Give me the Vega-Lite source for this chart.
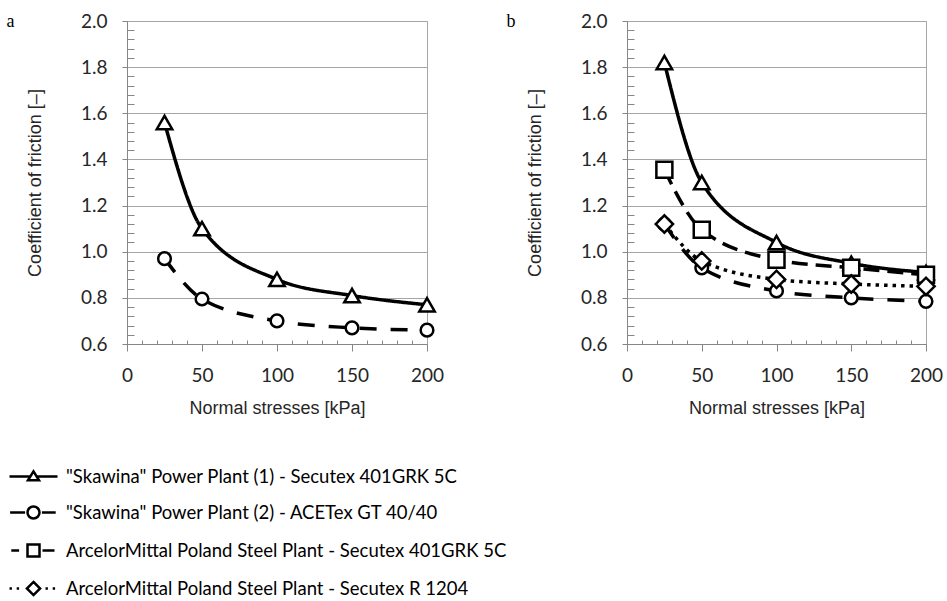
{
  "$schema": "https://vega.github.io/schema/vega-lite/v6.json",
  "padding": {"left": 5, "top": 11, "right": 5, "bottom": 5},
  "config": {
    "view": {"stroke": "#a6a6a6", "strokeWidth": 1},
    "font": "Lato",
    "axis": {
      "domainColor": "#868686",
      "tickColor": "#868686",
      "labelFont": "Lato",
      "labelFontSize": 19,
      "labelColor": "#262626",
      "titleFont": "Liberation Sans",
      "titleFontSize": 18,
      "titleFontWeight": "normal",
      "titleColor": "#262626",
      "gridColor": "#a6a6a6",
      "labelFlush": false,
      "labelOverlap": false
    }
  },
  "datasets": {
    "d": [
      {"panel": "a", "series": "\"Skawina\" Power Plant (1) - Secutex 401GRK 5C", "x": 25, "y": 1.56},
      {"panel": "a", "series": "\"Skawina\" Power Plant (1) - Secutex 401GRK 5C", "x": 50, "y": 1.10},
      {"panel": "a", "series": "\"Skawina\" Power Plant (1) - Secutex 401GRK 5C", "x": 100, "y": 0.88},
      {"panel": "a", "series": "\"Skawina\" Power Plant (1) - Secutex 401GRK 5C", "x": 150, "y": 0.81},
      {"panel": "a", "series": "\"Skawina\" Power Plant (1) - Secutex 401GRK 5C", "x": 200, "y": 0.77},
      {"panel": "a", "series": "\"Skawina\" Power Plant (2) - ACETex GT 40/40", "x": 25, "y": 0.97},
      {"panel": "a", "series": "\"Skawina\" Power Plant (2) - ACETex GT 40/40", "x": 50, "y": 0.795},
      {"panel": "a", "series": "\"Skawina\" Power Plant (2) - ACETex GT 40/40", "x": 100, "y": 0.70},
      {"panel": "a", "series": "\"Skawina\" Power Plant (2) - ACETex GT 40/40", "x": 150, "y": 0.67},
      {"panel": "a", "series": "\"Skawina\" Power Plant (2) - ACETex GT 40/40", "x": 200, "y": 0.66},
      {"panel": "b", "series": "\"Skawina\" Power Plant (1) - Secutex 401GRK 5C", "x": 25, "y": 1.82},
      {"panel": "b", "series": "\"Skawina\" Power Plant (1) - Secutex 401GRK 5C", "x": 50, "y": 1.30},
      {"panel": "b", "series": "\"Skawina\" Power Plant (1) - Secutex 401GRK 5C", "x": 100, "y": 1.04},
      {"panel": "b", "series": "\"Skawina\" Power Plant (1) - Secutex 401GRK 5C", "x": 150, "y": 0.95},
      {"panel": "b", "series": "\"Skawina\" Power Plant (1) - Secutex 401GRK 5C", "x": 200, "y": 0.91},
      {"panel": "b", "series": "\"Skawina\" Power Plant (2) - ACETex GT 40/40", "x": 25, "y": 1.12},
      {"panel": "b", "series": "\"Skawina\" Power Plant (2) - ACETex GT 40/40", "x": 50, "y": 0.93},
      {"panel": "b", "series": "\"Skawina\" Power Plant (2) - ACETex GT 40/40", "x": 100, "y": 0.83},
      {"panel": "b", "series": "\"Skawina\" Power Plant (2) - ACETex GT 40/40", "x": 150, "y": 0.80},
      {"panel": "b", "series": "\"Skawina\" Power Plant (2) - ACETex GT 40/40", "x": 200, "y": 0.785},
      {"panel": "b", "series": "ArcelorMittal Poland Steel Plant - Secutex 401GRK 5C", "x": 25, "y": 1.355},
      {"panel": "b", "series": "ArcelorMittal Poland Steel Plant - Secutex 401GRK 5C", "x": 50, "y": 1.095},
      {"panel": "b", "series": "ArcelorMittal Poland Steel Plant - Secutex 401GRK 5C", "x": 100, "y": 0.965},
      {"panel": "b", "series": "ArcelorMittal Poland Steel Plant - Secutex 401GRK 5C", "x": 150, "y": 0.93},
      {"panel": "b", "series": "ArcelorMittal Poland Steel Plant - Secutex 401GRK 5C", "x": 200, "y": 0.90},
      {"panel": "b", "series": "ArcelorMittal Poland Steel Plant - Secutex R 1204", "x": 25, "y": 1.12},
      {"panel": "b", "series": "ArcelorMittal Poland Steel Plant - Secutex R 1204", "x": 50, "y": 0.96},
      {"panel": "b", "series": "ArcelorMittal Poland Steel Plant - Secutex R 1204", "x": 100, "y": 0.88},
      {"panel": "b", "series": "ArcelorMittal Poland Steel Plant - Secutex R 1204", "x": 150, "y": 0.86},
      {"panel": "b", "series": "ArcelorMittal Poland Steel Plant - Secutex R 1204", "x": 200, "y": 0.85}
    ]
  },
  "data": {"name": "d"},
  "spacing": 60,
  "hconcat": [
    {
      "width": 300,
      "height": 323,
      "title": {"text": "a", "anchor": "start", "frame": "bounds", "font": "Liberation Serif", "fontSize": 18, "fontWeight": "normal", "color": "black", "dx": -20, "dy": 19, "offset": 0},
      "transform": [{"filter": "datum.panel === 'a'"}],
      "layer": [
        {
          "mark": {"type": "line", "interpolate": "monotone", "strokeWidth": 3.5, "color": "black"},
          "encoding": {
            "x": {"field": "x", "type": "quantitative", "scale": {"domain": [0, 200], "nice": false}, "axis": {"orient": "bottom", "values": [0, 50, 100, 150, 200], "title": "Normal stresses [kPa]", "grid": false, "tickSize": 7, "labelPadding": 15, "titlePadding": 14}},
            "y": {"field": "y", "type": "quantitative", "scale": {"domain": [0.6, 2.0], "nice": false, "zero": false}, "axis": {"orient": "left", "values": [0.6, 0.8, 1.0, 1.2, 1.4, 1.6, 1.8, 2.0], "format": ".1f", "title": "Coefficient of friction [–]", "grid": true, "tickSize": 5, "labelPadding": 15, "titlePadding": 36}},
            "strokeDash": {"field": "series", "type": "nominal", "scale": {"range": [[1, 0], [17, 14], [16, 8], [3.5, 5]]}, "legend": null}
          }
        },
        {
          "mark": {"type": "point", "filled": true, "fill": "white", "strokeWidth": 2.5, "opacity": 1},
          "encoding": {
            "x": {"field": "x", "type": "quantitative", "axis": {"orient": "bottom", "values": [10, 20, 30, 40, 60, 70, 80, 90, 110, 120, 130, 140, 160, 170, 180, 190], "tickSize": -4, "labels": false, "domain": false, "grid": false, "title": null}},
            "y": {"field": "y", "type": "quantitative", "axis": {"orient": "left", "values": [0.64, 0.68, 0.72, 0.76, 0.84, 0.88, 0.92, 0.96, 1.04, 1.08, 1.12, 1.16, 1.24, 1.28, 1.32, 1.36, 1.44, 1.48, 1.52, 1.56, 1.64, 1.68, 1.72, 1.76, 1.84, 1.88, 1.92, 1.96], "tickSize": -7, "labels": false, "domain": false, "grid": false, "title": null}},
            "shape": {"field": "series", "type": "nominal", "scale": {"range": ["triangle-up", "circle", "square", "diamond"]}, "legend": null},
            "size": {"field": "series", "type": "nominal", "scale": {"type": "ordinal", "range": [240, 160, 256, 300]}, "legend": null},
            "stroke": {"field": "series", "type": "nominal", "scale": {"domain": ["\"Skawina\" Power Plant (1) - Secutex 401GRK 5C", "\"Skawina\" Power Plant (2) - ACETex GT 40/40", "ArcelorMittal Poland Steel Plant - Secutex 401GRK 5C", "ArcelorMittal Poland Steel Plant - Secutex R 1204"], "range": ["black", "black", "black", "black"]},
              "legend": {"orient": "none", "legendX": -119, "legendY": 442, "direction": "vertical", "title": null, "symbolSize": 576, "symbolStrokeWidth": 2.5, "symbolFillColor": "white", "labelFont": "Lato", "labelFontSize": 18.5, "labelColor": "black", "labelLimit": 0, "labelOffset": 31, "rowPadding": 13, "padding": 0,
                "symbolType": {"expr": "datum.index === 0 ? 'M-1,0H0.72M1.28,0H3M1,-0.42L1.46,0.32L0.54,0.32Z' : datum.index === 1 ? 'M-0.95,0H0.3M1.7,0H2.85M1.5,0A0.5,0.5,0,1,1,0.5,0A0.5,0.5,0,1,1,1.5,0Z' : datum.index === 2 ? 'M-0.85,0H-0.2M0.5,-0.5H1.5V0.5H0.5ZM1.75,0H2.75' : 'M-1,0H-0.8M-0.4,0H-0.2M1,-0.55L1.55,0L1,0.55L0.45,0ZM2,0H2.2M2.6,0H2.8'"}}}
          }
        }
      ],
      "resolve": {"axis": {"x": "independent", "y": "independent"}}
    },
    {
      "width": 299,
      "height": 323,
      "title": {"text": "b", "anchor": "start", "frame": "bounds", "font": "Liberation Serif", "fontSize": 18, "fontWeight": "normal", "color": "black", "dx": -20, "dy": 19, "offset": 0},
      "transform": [{"filter": "datum.panel === 'b'"}],
      "layer": [
        {
          "mark": {"type": "line", "interpolate": "monotone", "strokeWidth": 3.5, "color": "black"},
          "encoding": {
            "x": {"field": "x", "type": "quantitative", "scale": {"domain": [0, 200], "nice": false}, "axis": {"orient": "bottom", "values": [0, 50, 100, 150, 200], "title": "Normal stresses [kPa]", "grid": false, "tickSize": 7, "labelPadding": 15, "titlePadding": 14}},
            "y": {"field": "y", "type": "quantitative", "scale": {"domain": [0.6, 2.0], "nice": false, "zero": false}, "axis": {"orient": "left", "values": [0.6, 0.8, 1.0, 1.2, 1.4, 1.6, 1.8, 2.0], "format": ".1f", "title": "Coefficient of friction [–]", "grid": true, "tickSize": 5, "labelPadding": 15, "titlePadding": 36}},
            "strokeDash": {"field": "series", "type": "nominal", "scale": {"range": [[1, 0], [17, 14], [16, 8], [3.5, 5]]}, "legend": null}
          }
        },
        {
          "mark": {"type": "point", "filled": true, "fill": "white", "strokeWidth": 2.5, "opacity": 1},
          "encoding": {
            "x": {"field": "x", "type": "quantitative", "axis": {"orient": "bottom", "values": [10, 20, 30, 40, 60, 70, 80, 90, 110, 120, 130, 140, 160, 170, 180, 190], "tickSize": -4, "labels": false, "domain": false, "grid": false, "title": null}},
            "y": {"field": "y", "type": "quantitative", "axis": {"orient": "left", "values": [0.64, 0.68, 0.72, 0.76, 0.84, 0.88, 0.92, 0.96, 1.04, 1.08, 1.12, 1.16, 1.24, 1.28, 1.32, 1.36, 1.44, 1.48, 1.52, 1.56, 1.64, 1.68, 1.72, 1.76, 1.84, 1.88, 1.92, 1.96], "tickSize": -7, "labels": false, "domain": false, "grid": false, "title": null}},
            "shape": {"field": "series", "type": "nominal", "scale": {"range": ["triangle-up", "circle", "square", "diamond"]}, "legend": null},
            "size": {"field": "series", "type": "nominal", "scale": {"type": "ordinal", "range": [240, 160, 256, 300]}, "legend": null},
            "stroke": {"field": "series", "type": "nominal", "scale": {"domain": ["\"Skawina\" Power Plant (1) - Secutex 401GRK 5C", "\"Skawina\" Power Plant (2) - ACETex GT 40/40", "ArcelorMittal Poland Steel Plant - Secutex 401GRK 5C", "ArcelorMittal Poland Steel Plant - Secutex R 1204"], "range": ["black", "black", "black", "black"]},
              "legend": {"orient": "none", "legendX": -119, "legendY": 442, "direction": "vertical", "title": null, "symbolSize": 576, "symbolStrokeWidth": 2.5, "symbolFillColor": "white", "labelFont": "Lato", "labelFontSize": 18.5, "labelColor": "black", "labelLimit": 0, "labelOffset": 31, "rowPadding": 13, "padding": 0,
                "symbolType": {"expr": "datum.index === 0 ? 'M-1,0H0.72M1.28,0H3M1,-0.42L1.46,0.32L0.54,0.32Z' : datum.index === 1 ? 'M-0.95,0H0.3M1.7,0H2.85M1.5,0A0.5,0.5,0,1,1,0.5,0A0.5,0.5,0,1,1,1.5,0Z' : datum.index === 2 ? 'M-0.85,0H-0.2M0.5,-0.5H1.5V0.5H0.5ZM1.75,0H2.75' : 'M-1,0H-0.8M-0.4,0H-0.2M1,-0.55L1.55,0L1,0.55L0.45,0ZM2,0H2.2M2.6,0H2.8'"}}}
          }
        }
      ],
      "resolve": {"axis": {"x": "independent", "y": "independent"}}
    }
  ]
}
